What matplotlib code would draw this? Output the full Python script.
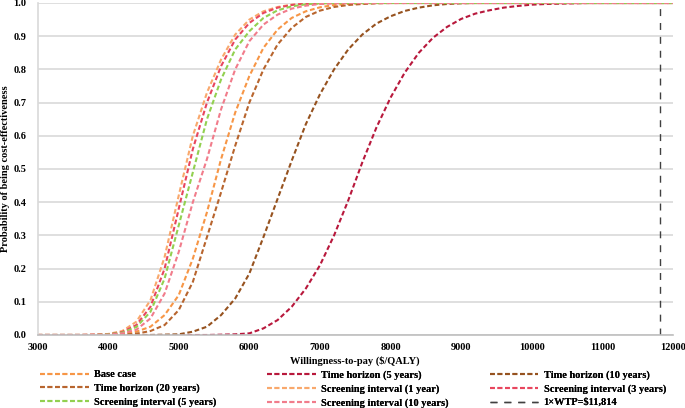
import numpy as np
import matplotlib
matplotlib.use("Agg")
from matplotlib import pyplot as plt

# willingness-to-pay grid ($/QALY)
wtp = [3000, 3200, 3400, 3600, 3800, 4000, 4200, 4400, 4600, 4800,
       5000, 5200, 5400, 5600, 5800, 6000, 6200, 6400, 6600, 6800,
       7000, 7200, 7400, 7600, 7800, 8000, 8200, 8400, 8600, 8800,
       9000, 9200, 9400, 9600, 9800, 10000, 10200, 10400, 10600, 10800,
       11000, 11200, 11400, 11600, 11800, 12000]

# probability of being cost-effective
base_case = [0, 0, 0, 0, 0, 0.001, 0.003, 0.010, 0.025, 0.060,
             0.120, 0.230, 0.370, 0.530, 0.670, 0.780, 0.865, 0.920, 0.955, 0.975,
             0.987, 0.994, 0.997, 0.999, 1, 1, 1, 1, 1, 1,
             1, 1, 1, 1, 1, 1, 1, 1, 1, 1, 1, 1, 1, 1, 1, 1]
th_5 = [0, 0, 0, 0, 0, 0, 0, 0, 0, 0,
        0, 0, 0, 0.001, 0.002, 0.005, 0.020, 0.045, 0.085, 0.140,
        0.210, 0.300, 0.405, 0.520, 0.625, 0.715, 0.790, 0.850, 0.895, 0.928,
        0.952, 0.968, 0.978, 0.986, 0.991, 0.995, 0.997, 0.998, 0.999, 1,
        1, 1, 1, 1, 1, 1]
th_10 = [0, 0, 0, 0, 0, 0, 0, 0, 0, 0.001,
         0.002, 0.010, 0.025, 0.060, 0.110, 0.185, 0.295, 0.410, 0.525, 0.635,
         0.725, 0.800, 0.860, 0.905, 0.938, 0.960, 0.976, 0.986, 0.993, 0.997,
         0.999, 1, 1, 1, 1, 1, 1, 1, 1, 1,
         1, 1, 1, 1, 1, 1]
th_20 = [0, 0, 0, 0, 0, 0, 0.001, 0.004, 0.012, 0.030,
         0.075, 0.160, 0.295, 0.430, 0.570, 0.700, 0.800, 0.875, 0.925, 0.958,
         0.977, 0.988, 0.994, 0.997, 0.999, 1, 1, 1, 1, 1,
         1, 1, 1, 1, 1, 1, 1, 1, 1, 1, 1, 1, 1, 1, 1, 1]
si_1 = [0, 0, 0, 0, 0.001, 0.003, 0.012, 0.040, 0.105, 0.235,
        0.420, 0.600, 0.730, 0.830, 0.905, 0.950, 0.975, 0.988, 0.995, 0.998,
        1, 1, 1, 1, 1, 1, 1, 1, 1, 1,
        1, 1, 1, 1, 1, 1, 1, 1, 1, 1, 1, 1, 1, 1, 1, 1]
si_3 = [0, 0, 0, 0, 0.001, 0.002, 0.009, 0.030, 0.085, 0.200,
        0.380, 0.560, 0.700, 0.810, 0.890, 0.940, 0.970, 0.986, 0.994, 0.998,
        0.999, 1, 1, 1, 1, 1, 1, 1, 1, 1,
        1, 1, 1, 1, 1, 1, 1, 1, 1, 1, 1, 1, 1, 1, 1, 1]
si_5 = [0, 0, 0, 0, 0, 0.002, 0.007, 0.024, 0.070, 0.170,
        0.330, 0.490, 0.650, 0.770, 0.860, 0.915, 0.955, 0.978, 0.990, 0.996,
        0.999, 1, 1, 1, 1, 1, 1, 1, 1, 1,
        1, 1, 1, 1, 1, 1, 1, 1, 1, 1, 1, 1, 1, 1, 1, 1]
si_10 = [0, 0, 0, 0, 0, 0.001, 0.005, 0.016, 0.050, 0.125,
         0.250, 0.400, 0.530, 0.680, 0.800, 0.885, 0.935, 0.965, 0.983, 0.992,
         0.997, 0.999, 1, 1, 1, 1, 1, 1, 1, 1,
         1, 1, 1, 1, 1, 1, 1, 1, 1, 1, 1, 1, 1, 1, 1, 1]
wtp_threshold = 11814

labels = ["Base case", "Time horizon (5 years)", "Time horizon (10 years)",
          "Time horizon (20 years)", "Screening interval (1 year)",
          "Screening interval (3 years)", "Screening interval (5 years)",
          "Screening interval (10 years)"]
series = [base_case, th_5, th_10, th_20, si_1, si_3, si_5, si_10]
colors = ["#F79646", "#B8183C", "#96521F", "#B8652E",
          "#F9A86C", "#E8465E", "#92D050", "#F17C8B"]

plt.rcParams["font.family"] = ["Liberation Serif", "DejaVu Serif"]
plt.rcParams["font.weight"] = "bold"

fig = plt.figure(figsize=(6.85, 4.08), dpi=100)
ax = fig.add_axes([37.5 / 685, 1 - 335 / 408, 635.5 / 685, 332 / 408])

handles = []
for vals, lab, col in zip(series, labels, colors):
    (h,) = ax.plot(wtp, vals, color=col, lw=1.5, linestyle=(0, (2.3, 1.3)),
                   label=lab)
    handles.append(h)
(hv,) = ax.plot([wtp_threshold, wtp_threshold], [0, 1], color="#404040",
                lw=1.0, linestyle=(0, (5, 5)))
handles.append(hv)
labels = labels + ["1\u00d7WTP=\\$11,814"]

ax.set_xlim(3000, 12000)
ax.set_ylim(0, 1)
ax.set_xticks(np.arange(3000, 12001, 1000))
ax.set_yticks(np.arange(0, 1.01, 0.1))
ax.set_yticklabels([f"{v:.1f}" for v in np.arange(0, 1.01, 0.1)])
ax.tick_params(axis="both", length=0, labelsize=7.5)
ax.tick_params(axis="x", pad=6)
ax.tick_params(axis="y", pad=8)
ax.grid(axis="y", color="#D9D9D9", lw=1.2)
ax.set_axisbelow(True)
for s in ["top", "right"]:
    ax.spines[s].set_visible(False)
ax.spines["left"].set_color("#D9D9D9")
ax.spines["bottom"].set_color("#BFBFBF")
ax.spines["left"].set_linewidth(1.2)
ax.spines["bottom"].set_linewidth(1.2)

fig.text(355 / 685, 1 - 361 / 408, "Willingness-to-pay (\\$/QALY)",
         ha="center", va="center", fontsize=7.5, fontweight="bold")
fig.text(6 / 685, 1 - 169 / 408, "Probability of being cost-effectiveness",
         ha="center", va="center", rotation=90, fontsize=7.5,
         fontweight="bold")

# three legend columns, filled row by row
col_x = [40, 267, 489.5]
for c in range(3):
    idx = [c, c + 3, c + 6]
    leg = fig.legend([handles[i] for i in idx], [labels[i] for i in idx],
                     loc="upper left",
                     bbox_to_anchor=(col_x[c] / 685, 1 - 370 / 408),
                     frameon=False, fontsize=7.5, handlelength=4.7,
                     handletextpad=0.5, borderpad=0, borderaxespad=0,
                     labelspacing=0.42)
    fig.add_artist(leg)

plt.savefig("out.png", dpi=100)
